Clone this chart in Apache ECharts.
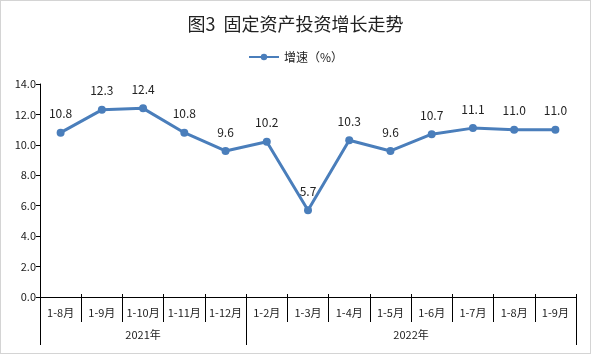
<!DOCTYPE html>
<html>
<head>
<meta charset="utf-8">
<script src="https://cdn.jsdelivr.net/npm/echarts@6/dist/echarts.min.js"></script>
<style>
    html, body { margin: 0; padding: 0; background: #fff; }
    #chart {
        width: 591px;
        height: 354px;
        box-sizing: border-box;
        border: 1px solid #d4d4d4;
    }
</style>
</head>
<body>
<div id="chart"></div>
<script>
    // 月份类目与增速
    const months = ['1-8月', '1-9月', '1-10月', '1-11月', '1-12月', '1-2月', '1-3月',
        '1-4月', '1-5月', '1-6月', '1-7月', '1-8月', '1-9月'];
    const growth = [10.8, 12.3, 12.4, 10.8, 9.6, 10.2, 5.7, 10.3, 9.6, 10.7, 11.1, 11.0, 11.0];

    // 年份分组：分界位置与标签中心
    const yearBounds = [0, 5, 13];
    const yearCenters = [2.5, 9];
    const yearNames = ['2021年', '2022年'];

    const font = '"Microsoft YaHei", "Noto Sans CJK SC", sans-serif';
    const blue = '#4a7ebb';

    let myChart = echarts.init(document.getElementById('chart'));
    myChart.setOption({
        animation: false,
        title: {
            text: '图3  固定资产投资增长走势',
            left: 'center',
            top: 9,
            textStyle: { fontFamily: font, fontSize: 18, fontWeight: 'normal', color: '#222' }
        },
        legend: {
            top: 45,
            left: 'center',
            itemWidth: 30,
            itemHeight: 8,
            itemGap: 4,
            textStyle: { fontFamily: font, fontSize: 12, color: '#222' },
            data: ['增速（%）']
        },
        grid: { left: 39, right: 14, top: 83, bottom: 56, containLabel: false },
        xAxis: [
            {
                type: 'category',
                position: 'bottom',
                data: months,
                boundaryGap: true,
                axisLine: { lineStyle: { color: '#000', width: 1 } },
                axisTick: { show: true, interval: 0, length: 25, lineStyle: { color: '#000' } },
                axisLabel: { interval: 0, fontFamily: font, fontSize: 11, color: '#222', margin: 10 }
            },
            {
                type: 'category',
                position: 'bottom',
                data: months,
                boundaryGap: true,
                axisLine: { show: false },
                axisTick: { show: true, interval: 0, inside: true, length: 3, lineStyle: { color: '#000' } },
                axisLabel: { show: false }
            },
            {
                type: 'value',
                position: 'bottom',
                min: 0,
                max: 13,
                axisLine: { show: false },
                splitLine: { show: false },
                axisTick: { show: true, customValues: yearBounds, length: 48, lineStyle: { color: '#000' } },
                axisLabel: {
                    customValues: yearCenters,
                    margin: 32,
                    fontFamily: font, fontSize: 11, color: '#222',
                    formatter: v => yearNames[yearCenters.indexOf(v)]
                }
            }
        ],
        yAxis: {
            type: 'value',
            min: 0,
            max: 14,
            interval: 2,
            axisLine: { show: true, lineStyle: { color: '#000' } },
            axisTick: { show: true, length: 4, lineStyle: { color: '#000' } },
            splitLine: { show: false },
            axisLabel: {
                fontFamily: font, fontSize: 11, color: '#222', margin: 4,
                formatter: v => v.toFixed(1)
            }
        },
        series: [
            {
                name: '增速（%）',
                type: 'line',
                data: growth,
                color: blue,
                symbol: 'circle',
                symbolSize: 8,
                lineStyle: { width: 3, color: blue },
                itemStyle: { color: blue },
                label: {
                    show: true,
                    position: 'top',
                    distance: 9,
                    fontFamily: font,
                    fontSize: 12,
                    color: '#222',
                    formatter: p => p.value.toFixed(1)
                }
            }
        ]
    });
</script>
</body>
</html>
